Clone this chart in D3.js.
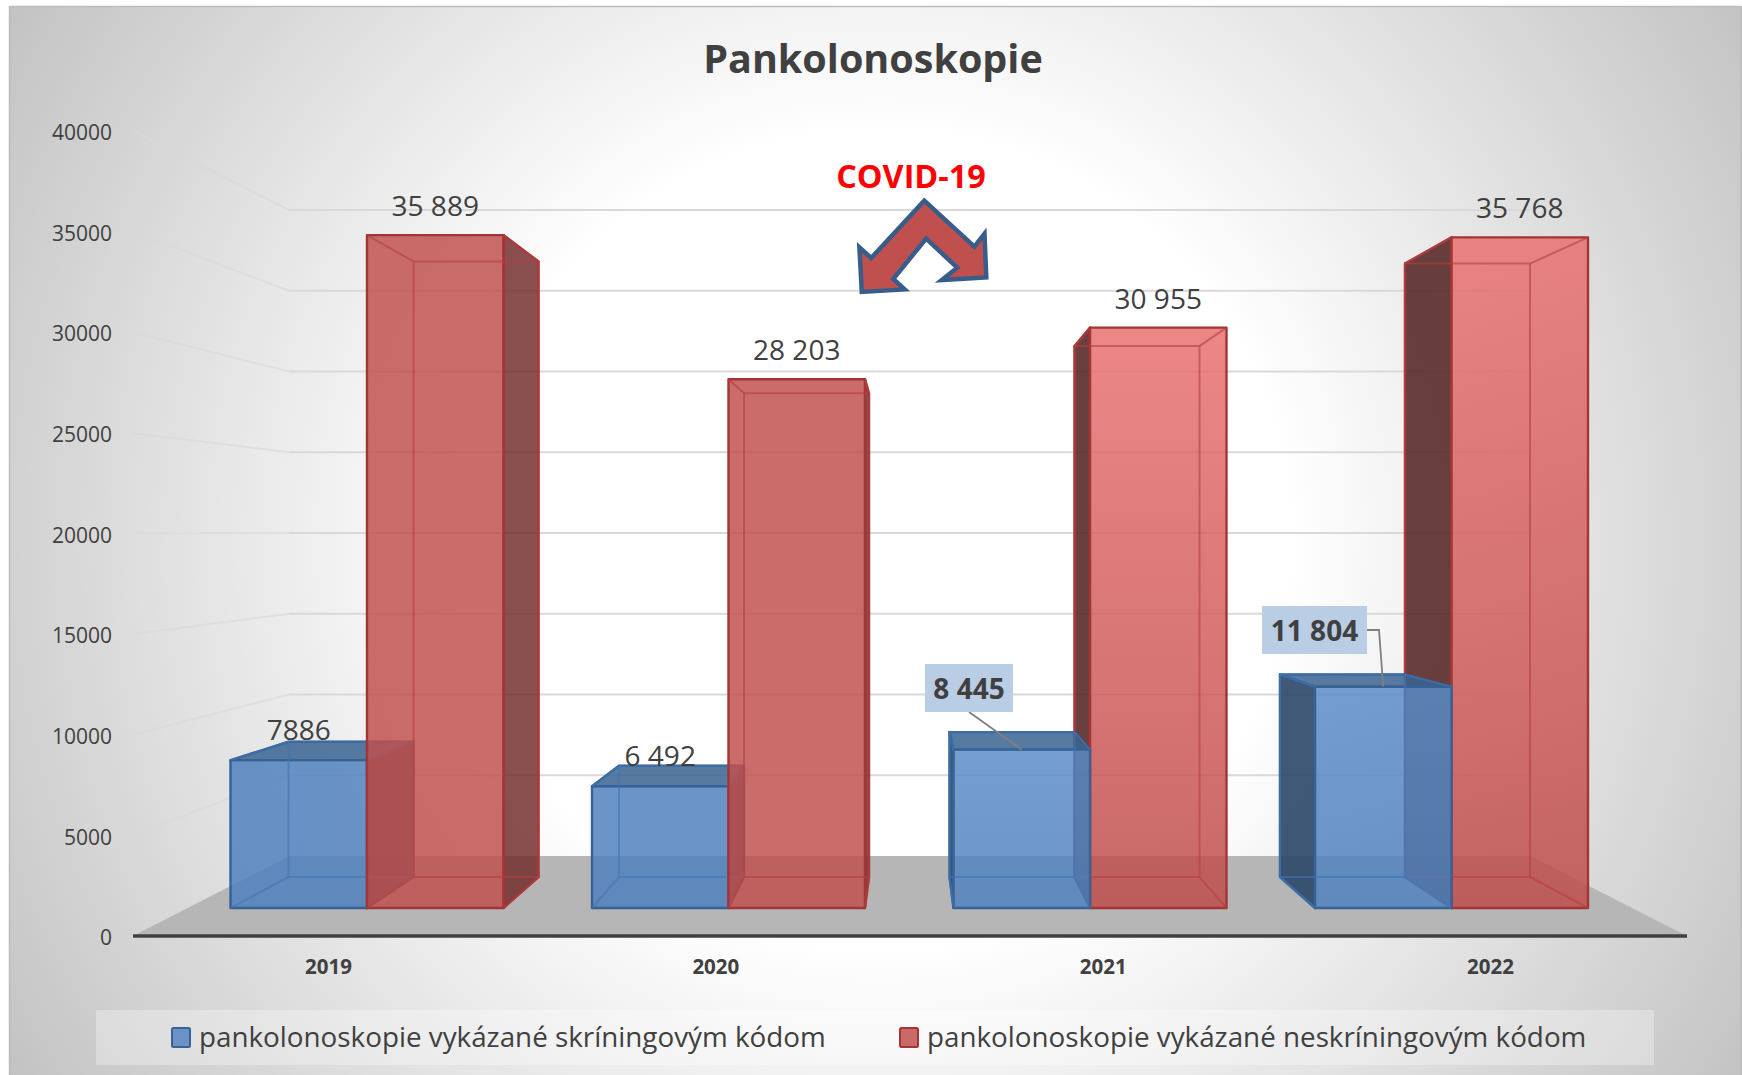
<!DOCTYPE html>
<html lang="sk">
<head>
  <meta charset="UTF-8">
  <title>Pankolonoskopie</title>
  <script src="https://d3js.org/d3.v7.min.js"></script>
  <style>
    html, body { margin: 0; background: white; }
    svg { display: block; }
    text { font-family: 'Open Sans', sans-serif; fill: #404040; }
  </style>
</head>
<body>
  <svg id="chart" width="1742" height="1075"></svg>
  <script>
    var years = ["2019", "2020", "2021", "2022"];
    var series = ["screening", "other"];
    var screeningValues = [7886, 6492, 8445, 11804];
    var otherValues = [35889, 28203, 30955, 35768];
    var screeningLabels = ["7886", "6 492", "8 445", "11 804"];
    var otherLabels = ["35 889", "28 203", "30 955", "35 768"];
    var legendLabels = ["pankolonoskopie vykázané skríningovým kódom", "pankolonoskopie vykázané neskríningovým kódom"];
    var axisTicks = [0, 5000, 10000, 15000, 20000, 25000, 30000, 35000, 40000];
    var litYears = ["2021", "2022"];

    var svg = d3.select("#chart");
    var defs = svg.append("defs");

    // page background, white in the middle and grey in the corners
    var bg = defs.append("radialGradient").attr("id", "bg").attr("gradientUnits", "userSpaceOnUse")
      .attr("cx", 880).attr("cy", 540).attr("r", 1020);
    bg.append("stop").attr("offset", "0.4").attr("stop-color", "#ffffff");
    bg.append("stop").attr("offset", "1").attr("stop-color", "#c3c3c3");

    function litGradient(id, top, bottom) {
      var g = defs.append("linearGradient").attr("id", id).attr("x1", 0).attr("y1", 0).attr("x2", 0).attr("y2", 1);
      g.append("stop").attr("offset", 0).attr("stop-color", top);
      g.append("stop").attr("offset", 1).attr("stop-color", bottom);
    }
    litGradient("litRed", "#e8706e", "#be4c49");
    litGradient("litBlue", "#5a8cc8", "#4f81bd");

    svg.append("rect").attr("x", 9).attr("y", 6).attr("width", 1733).attr("height", 1069)
      .attr("fill", "url(#bg)");
    svg.append("path").attr("d", "M9.5,1075V6.5H1741V1075").attr("fill", "none").attr("stroke", "#bdbdbd").attr("stroke-width", 1.5);

    // the chart is a 3D one: labels, front faces and back faces each have their own vertical scale
    var yLabel = d3.scaleLinear().domain([0, 40000]).range([936, 131]);
    var yWall = d3.scaleLinear().domain([0, 40000]).range([856, 210]);
    var yFront = d3.scaleLinear().domain([0, 40000]).range([908, 158]);
    var yBack = d3.scaleLinear().domain([0, 40000]).range([877, 191]);

    var xFront = d3.scaleBand().domain(years).range([230.5, 1588]).paddingInner(0.2448);
    var xBack = d3.scaleBand().domain(years).range([288.5, 1530]).paddingInner(0.2434);
    var xLabel = d3.scalePoint().domain(years).range([328, 1490]);
    var serFront = d3.scaleBand().domain(series).range([0, xFront.bandwidth()]);
    var serBack = d3.scaleBand().domain(series).range([0, xBack.bandwidth()]);

    // floor and walls
    svg.append("path").attr("d", "M133,936L289,856H1530L1687,936Z").attr("fill", "#b6b6b6");

    var grid = svg.append("g").attr("fill", "none").attr("stroke", "#d9d9d9").attr("stroke-width", 2);
    axisTicks.filter(d => d > 0).forEach(function(t) {
      grid.append("line").attr("x1", 133).attr("y1", yLabel(t)).attr("x2", 289).attr("y2", yWall(t)).attr("opacity", 0.6);
      grid.append("line").attr("x1", 289).attr("y1", yWall(t)).attr("x2", 1530).attr("y2", yWall(t));
    });

    svg.append("line").attr("x1", 133).attr("x2", 1687).attr("y1", 936).attr("y2", 936)
      .attr("stroke", "#404040").attr("stroke-width", 3.5);

    var yAxis = svg.append("g").attr("transform", "translate(112,2)")
      .call(d3.axisLeft(yLabel).tickValues(axisTicks).tickSize(0).tickPadding(0).tickFormat(d3.format("d")));
    yAxis.select(".domain").remove();
    yAxis.selectAll("text").style("font-size", "21px").style("font-family", "'Open Sans', sans-serif").attr("fill", "#404040");

    var xAxis = svg.append("g").attr("transform", "translate(0,967)")
      .call(d3.axisBottom(xLabel).tickSize(0).tickPadding(0));
    xAxis.select(".domain").remove();
    xAxis.selectAll("text").attr("dy", "0.35em").attr("y", 0)
      .style("font-size", "20.5px").style("font-weight", 700).style("font-family", "'Open Sans', sans-serif").attr("fill", "#404040");

    // bars
    var bars = [];
    years.forEach(function(year, i) {
      bars.push({ year: year, key: "screening", value: screeningValues[i], label: screeningLabels[i] });
      bars.push({ year: year, key: "other", value: otherValues[i], label: otherLabels[i] });
    });
    bars.forEach(function(d) {
      d.fx0 = xFront(d.year) + serFront(d.key);
      d.fx1 = d.fx0 + serFront.bandwidth();
      d.bx0 = xBack(d.year) + serBack(d.key);
      d.bx1 = d.bx0 + serBack.bandwidth();
      d.ft = yFront(d.value);
      d.fb = yFront(0);
      d.bt = yBack(d.value);
      d.bb = yBack(0);
      d.cx = (d.fx0 + d.fx1) / 2;
    });

    var style = {
      screening: { flat: "#4f81bd", lit: "url(#litBlue)", top: "#3a648f", left: "#2b4768", right: "#2b4768", leftOp: 0.9, rightOp: 0.9, edge: "#376296", inner: "#3f75b5" },
      other: { flat: "#c0504d", lit: "url(#litRed)", top: "#c0504d", left: "#552424", right: "#702a2a", leftOp: 0.88, rightOp: 0.82, edge: "#a33536", inner: "#b5403f" }
    };
    var line = d3.line();

    // bars further from the middle of the picture go first, the nearer ones cover them
    var order = bars.slice().sort((a, b) => Math.abs(b.cx - 907) - Math.abs(a.cx - 907));
    var barG = svg.append("g");
    order.forEach(function(d) {
      var s = style[d.key];
      var g = barG.append("g");
      function face(points, fill, opacity) {
        return g.append("path").attr("d", line(points) + "Z").attr("fill", fill).attr("fill-opacity", opacity)
          .attr("stroke", s.edge).attr("stroke-width", 2.4).attr("stroke-linejoin", "round");
      }
      if (d.bx0 < d.fx0) face([[d.bx0, d.bt], [d.fx0, d.ft], [d.fx0, d.fb], [d.bx0, d.bb]], s.left, s.leftOp);
      if (d.bx1 > d.fx1) face([[d.fx1, d.ft], [d.bx1, d.bt], [d.bx1, d.bb], [d.fx1, d.fb]], s.right, s.rightOp);
      if (d.bt < d.ft) face([[d.fx0, d.ft], [d.bx0, d.bt], [d.bx1, d.bt], [d.fx1, d.ft]], s.top, 0.85);
      var lit = litYears.indexOf(d.year) >= 0;
      face([[d.fx0, d.ft], [d.fx1, d.ft], [d.fx1, d.fb], [d.fx0, d.fb]], lit ? s.lit : s.flat, 0.84);
      // back edges show through the front face
      var inner = g.append("g").attr("fill", "none").attr("stroke", s.inner).attr("stroke-width", 2).attr("stroke-opacity", 0.6);
      inner.append("path").attr("d", line([[d.bx0, d.bt], [d.bx1, d.bt], [d.bx1, d.bb], [d.bx0, d.bb]]) + "Z");
      [[d.fx0, d.ft, d.bx0, d.bt], [d.fx1, d.ft, d.bx1, d.bt], [d.fx0, d.fb, d.bx0, d.bb], [d.fx1, d.fb, d.bx1, d.bb]].forEach(function(c) {
        inner.append("path").attr("d", line([[c[0], c[1]], [c[2], c[3]]]));
      });
    });

    // plain value labels
    var calloutYears = ["2021", "2022"];
    var plain = bars.filter(d => !(d.key === "screening" && calloutYears.indexOf(d.year) >= 0));
    svg.append("g").selectAll("text").data(plain).join("text")
      .attr("x", d => d.cx)
      .attr("y", d => d.ft - (d.key === "screening" ? 20 : 19))
      .attr("text-anchor", "middle").style("font-size", "28px")
      .text(d => d.label);

    // boxed labels with a leader line
    function callout(d, x0, y0, x1, y1, leader) {
      svg.append("path").attr("d", line(leader)).attr("fill", "none").attr("stroke", "#7f7f7f").attr("stroke-width", 1.8);
      svg.append("rect").attr("x", x0).attr("y", y0).attr("width", x1 - x0).attr("height", y1 - y0).attr("fill", "#b9cde5");
      svg.append("text").attr("x", (x0 + x1) / 2).attr("y", y1 - 13).attr("text-anchor", "middle")
        .style("font-size", "28px").style("font-weight", 700).text(d.label);
    }
    var b21 = bars.find(d => d.key === "screening" && d.year === "2021");
    var b22 = bars.find(d => d.key === "screening" && d.year === "2022");
    callout(b21, 925, 664, 1013, 712, [[969, 712], [b21.cx, b21.ft]]);
    callout(b22, 1262, 606, 1367, 654, [[1367, 630], [1379, 630], [b22.cx, b22.ft]]);

    // title and COVID note
    svg.append("text").attr("x", 873).attr("y", 73).attr("text-anchor", "middle")
      .style("font-size", "39.5px").style("font-weight", 700).text("Pankolonoskopie");
    svg.append("text").attr("x", 911).attr("y", 188).attr("text-anchor", "middle")
      .style("font-size", "32.4px").style("font-weight", 700).style("fill", "#ff0000").text("COVID-19");
    var arrow = [[924.3, 200.7], [974.4, 246.7], [984.5, 233.7], [986.3, 277.4], [941.7, 280], [957.2, 267.7], [926.2, 238.6],
      [893.2, 279], [904.6, 289.4], [861.8, 291.9], [859.4, 247.3], [871.2, 258]];
    svg.append("path").attr("d", line(arrow) + "Z").attr("fill", "#c0504d").attr("stroke", "#385d8a").attr("stroke-width", 4.5);

    // legend
    svg.append("rect").attr("x", 96).attr("y", 1010).attr("width", 1558).attr("height", 55).attr("fill", "#ffffff").attr("fill-opacity", 0.3);
    var legendX = [172, 900];
    var legendFill = ["#6a92c6", "#c96a68"];
    var legendStroke = ["#376296", "#a33536"];
    legendLabels.forEach(function(name, i) {
      svg.append("rect").attr("x", legendX[i]).attr("y", 1028).attr("width", 18).attr("height", 19).attr("rx", 1.5)
        .attr("fill", legendFill[i]).attr("stroke", legendStroke[i]).attr("stroke-width", 2);
      svg.append("text").attr("x", legendX[i] + 27).attr("y", 1047).style("font-size", "27.8px").text(name);
    });
  </script>
</body>
</html>
